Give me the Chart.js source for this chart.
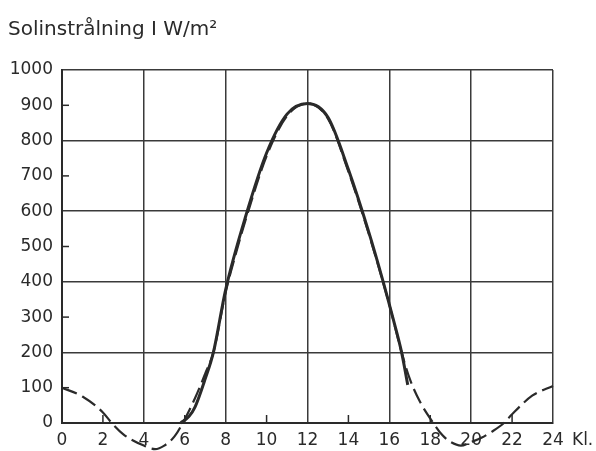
<!DOCTYPE html>
<html>
<head>
<meta charset="utf-8">
<script src="https://cdn.jsdelivr.net/npm/chart.js@4"></script>
<style>
  html, body { margin: 0; padding: 0; background: #fff; }
  #wrap { width: 596px; height: 451px; }
</style>
</head>
<body>
<div id="wrap"><canvas id="chart"></canvas></div>
<script>
// Dashed curve (whole day, dips below zero at night)
const dashHours = [0, 1, 2, 2.43, 3, 4, 4.55, 5, 5.5, 5.9, 6.5, 7, 7.4, 8, 8.5, 9, 10, 11, 12, 13, 14, 15, 16, 16.6, 17, 17.5, 18.15, 18.6, 19, 19.5, 20, 20.5, 21, 21.6, 22, 23, 24];
const dashValues = [100, 75, 30, 0, -32, -64, -74, -64, -38, 0, 70, 140, 200, 370, 480, 580, 756, 870, 905, 862, 712, 535, 335, 200, 125, 60, 0, -35, -54, -64, -54, -42, -25, 0, 25, 78, 105];

// Solid curve (measured, daytime only)
const solidHours = [5.8, 6.2, 6.5, 7, 7.4, 8, 9, 10, 11, 12, 13, 14, 15, 15.7, 16.2, 16.6, 16.9];
const solidValues = [0, 18, 45, 125, 200, 378, 590, 765, 875, 905, 866, 718, 540, 400, 292, 200, 108];

const xTicks = [0, 2, 4, 6, 8, 10, 12, 14, 16, 18, 20, 22, 24];
const yTicks = [0, 100, 200, 300, 400, 500, 600, 700, 800, 900, 1000];

const ink = "#2a2a2a";
const font = { family: "DejaVu Sans", size: 17 };

const toPoints = (xs, ys) => xs.map((x, i) => ({ x: x, y: ys[i] }));

// small inner tick marks at the odd positions + "Kl." label
const extras = {
    id: "extras",
    afterDraw(chart) {
        const { ctx, scales: { x, y }, chartArea } = chart;
        ctx.save();
        ctx.strokeStyle = ink;
        ctx.lineWidth = 1.5;
        xTicks.filter(v => v % 4 !== 0).forEach(v => {
            const px = x.getPixelForValue(v);
            ctx.beginPath();
            ctx.moveTo(px, chartArea.bottom);
            ctx.lineTo(px, chartArea.bottom - 8);
            ctx.stroke();
        });
        yTicks.filter(v => v % 200 !== 0).forEach(v => {
            const py = y.getPixelForValue(v);
            ctx.beginPath();
            ctx.moveTo(chartArea.left, py);
            ctx.lineTo(chartArea.left + 7, py);
            ctx.stroke();
        });
        ctx.fillStyle = ink;
        ctx.font = "17px 'DejaVu Sans'";
        ctx.textBaseline = "middle";
        ctx.textAlign = "left";
        ctx.fillText("Kl.", x.getPixelForValue(24) + 19, chartArea.bottom + 18);
        ctx.restore();
    }
};

new Chart(document.getElementById("chart"), {
    type: "line",
    data: {
        datasets: [
            {
                data: toPoints(dashHours, dashValues),
                borderColor: ink,
                borderWidth: 2.2,
                borderDash: [16, 6],
                pointRadius: 0,
                cubicInterpolationMode: "monotone",
                clip: false,
            },
            {
                data: toPoints(solidHours, solidValues),
                borderColor: ink,
                borderWidth: 3,
                pointRadius: 0,
                cubicInterpolationMode: "monotone",
                clip: false,
            },
        ],
    },
    options: {
        responsive: true,
        maintainAspectRatio: false,
        animation: false,
        layout: { padding: { left: 8, right: 43, top: 0, bottom: 0 } },
        plugins: {
            legend: { display: false },
            tooltip: { enabled: false },
            title: {
                display: true,
                text: "Solinstrålning I W/m²",
                align: "start",
                color: ink,
                font: { family: "DejaVu Sans", size: 20, weight: "normal" },
                padding: { top: 18, bottom: 28 },
            },
        },
        scales: {
            x: {
                type: "linear",
                min: 0,
                max: 24,
                afterBuildTicks: (s) => { s.ticks = xTicks.map(v => ({ value: v })); },
                afterFit: (s) => { s.height = 28; },
                ticks: { color: ink, font: font, padding: 7, maxRotation: 0, callback: (v) => String(v) },
                grid: {
                    drawTicks: false,
                    lineWidth: 1.5,
                    color: (c) => (c.tick && c.tick.value % 4 === 0 ? "#3a3a3a" : "rgba(0,0,0,0)"),
                },
                border: { color: ink, width: 2 },
            },
            y: {
                min: 0,
                max: 1000,
                afterBuildTicks: (s) => { s.ticks = yTicks.map(v => ({ value: v })); },
                afterFit: (s) => { s.width = 54; },
                ticks: { color: ink, font: font, padding: 9, callback: (v) => String(v) },
                grid: {
                    drawTicks: false,
                    lineWidth: 1.5,
                    color: (c) => (c.tick && c.tick.value % 200 === 0 ? "#3a3a3a" : "rgba(0,0,0,0)"),
                },
                border: { color: ink, width: 2 },
            },
        },
    },
    plugins: [extras],
});
</script>
</body>
</html>
